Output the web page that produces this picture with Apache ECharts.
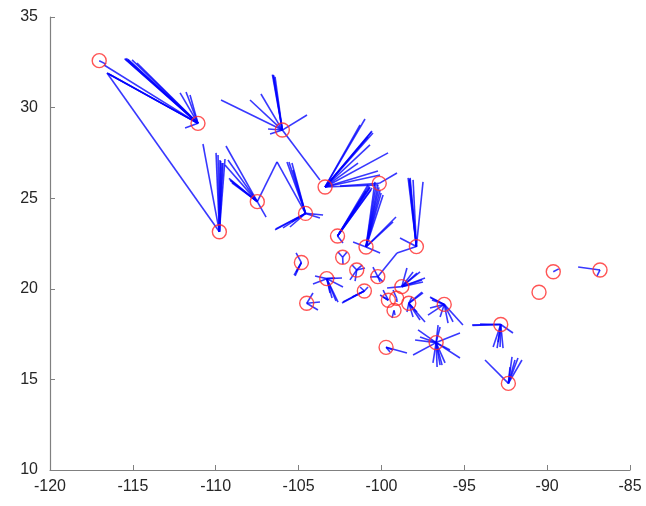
<!DOCTYPE html>
<html>
<head>
<meta charset="utf-8">
<script src="https://cdn.jsdelivr.net/npm/echarts@6/dist/echarts.min.js"></script>
<style>html,body{margin:0;padding:0;background:#fff}#c{width:646px;height:506px}</style>
</head>
<body>
<div id="c"></div>
<script>
// City locations (longitude, latitude)
const cityNames = ['Tijuana','Hermosillo','Los Cabos','Culiacan','Chihuahua','Durango','Torreon','Monterrey',
  'Zacatecas','San Luis Potosi','Tampico','Aguascalientes','Tepic','Leon','Guadalajara','Queretaro',
  'Morelia','Manzanillo','Pachuca','Toluca','Mexico City','Cuernavaca','Puebla','Veracruz','Oaxaca',
  'Acapulco','Villahermosa','Tapachula','Campeche','Merida','Cancun'];
const cityLon = [-117.03,-111.07,-109.78,-107.49,-105.98,-104.58,-103.40,-100.13,
  -102.65,-100.93,-97.89,-102.34,-104.83,-101.49,-103.30,-100.22,
  -101.03,-104.51,-98.77,-99.58,-99.08,-99.24,-98.35,-96.21,-96.70,
  -99.72,-92.80,-92.34,-90.49,-89.63,-86.81];
const cityLat = [32.59,29.13,23.15,24.81,28.76,24.16,25.62,25.82,
  22.91,22.31,22.33,21.74,21.45,21.04,20.56,20.67,
  19.88,19.20,20.12,19.37,19.48,18.81,19.20,19.14,17.03,
  16.77,18.03,14.78,19.81,20.94,21.04];
// Spoke end points for each city, same order as the cities
const spokeEnds = [
  [[-116.62,32.40]],
  [[-115.50,32.70],[-115.40,32.72],[-115.30,32.66],[-115.45,32.68],[-115.05,32.63],[-114.75,32.46],[-116.56,31.91],[-116.45,31.85],[-116.50,31.88],[-116.74,32.35],[-112.15,30.81],[-111.79,30.86],[-111.55,30.70],[-111.85,28.88]],
  [[-116.56,31.91],[-110.77,27.99],[-109.98,27.50],[-109.86,27.39],[-109.74,27.11],[-109.56,26.94],[-109.62,26.94],[-109.44,27.16],[-109.70,27.05]],
  [[-109.38,27.88],[-109.26,27.11],[-109.14,26.01],[-109.10,25.95],[-109.02,25.84],[-109.44,26.83],[-109.20,26.10],[-106.30,27.00],[-106.96,23.96]],
  [[-106.54,31.80],[-106.50,31.78],[-106.58,31.82],[-106.42,31.69],[-109.68,30.42],[-107.93,30.42],[-107.27,30.75],[-104.49,29.59],[-106.84,28.82],[-106.72,28.54],[-103.71,26.01]],
  [[-106.30,27.00],[-105.70,27.00],[-105.58,27.00],[-105.40,26.94],[-105.34,26.56],[-103.52,24.07],[-103.71,23.91],[-106.42,23.25],[-106.38,23.30],[-105.94,23.36],[-105.52,23.41],[-105.40,23.69]],
  [[-100.99,29.37],[-100.57,28.71],[-100.51,28.60],[-100.81,28.38],[-99.60,27.50],[-101.41,26.94],[-100.21,26.50],[-100.08,26.28],[-101.29,29.04],[-100.69,27.94],[-100.21,25.73],[-100.60,28.65]],
  [[-99.06,26.39],[-102.50,25.67]],
  [[-100.81,25.73],[-100.69,25.62],[-100.57,25.56],[-100.93,25.40],[-100.75,25.67],[-100.63,25.45],[-100.70,25.58],[-102.32,22.53]],
  [[-100.39,25.90],[-100.21,25.73],[-100.08,25.45],[-99.90,25.18],[-100.02,25.29],[-100.33,25.67],[-100.15,25.60],[-99.12,23.96],[-99.30,23.69],[-101.71,22.58],[-100.08,21.98]],
  [[-98.39,26.12],[-98.27,26.12],[-98.09,26.01],[-97.49,25.90],[-98.33,26.01],[-98.30,26.08],[-98.88,22.80],[-99.06,21.98]],
  [[-102.62,22.03],[-102.08,22.03],[-102.32,21.37]],
  [[-105.15,21.98],[-105.27,20.76],[-105.15,20.93],[-105.21,20.71]],
  [[-101.77,21.31],[-101.17,21.31],[-101.90,20.49],[-101.59,20.43],[-100.99,21.15]],
  [[-104.01,20.71],[-104.13,20.27],[-102.80,20.60],[-102.38,20.60],[-102.32,20.10],[-103.10,19.77],[-102.98,19.49],[-102.62,19.27],[-102.74,19.33]],
  [[-100.51,21.20],[-100.69,20.65],[-100.08,20.38],[-99.90,20.38],[-99.06,21.98]],
  [[-102.32,19.27],[-102.38,19.22],[-101.77,19.55],[-101.29,20.10],[-100.81,20.10]],
  [[-104.13,19.77],[-103.71,19.27],[-103.83,18.83]],
  [[-98.46,21.15],[-98.09,20.93],[-97.67,20.93],[-97.37,20.60],[-97.49,20.38],[-97.85,20.87],[-99.66,20.04],[-97.55,20.49]],
  [[-99.90,19.93],[-100.08,19.66],[-99.90,19.55]],
  [[-99.30,19.93],[-99.06,19.27]],
  [[-99.36,18.39],[-99.18,18.55]],
  [[-97.55,19.82],[-97.49,19.77],[-97.67,18.28],[-98.09,18.44],[-97.85,18.72],[-97.37,18.17],[-98.46,18.72],[-98.15,19.55]],
  [[-97.07,19.55],[-97.03,19.50],[-96.95,19.38],[-97.19,18.55],[-97.07,18.94],[-95.98,18.11],[-95.68,18.17],[-95.08,18.00],[-96.46,18.44]],
  [[-97.79,17.73],[-97.67,17.34],[-97.97,17.17],[-98.09,16.35],[-95.26,17.56],[-96.46,17.89],[-96.58,18.00],[-95.86,16.62],[-95.26,16.18],[-96.64,15.68],[-96.34,15.79],[-96.16,15.91],[-96.46,15.79],[-96.89,15.91]],
  [[-98.46,16.46],[-99.30,16.62],[-99.48,16.51]],
  [[-94.53,18.00],[-94.50,17.98],[-94.05,18.06],[-92.06,17.56],[-93.26,16.79],[-93.02,16.73],[-92.84,16.79],[-92.66,16.73],[-92.96,17.06]],
  [[-93.75,16.07],[-92.12,16.24],[-91.94,16.07],[-91.76,16.18],[-91.52,16.07],[-92.24,15.68]],
  [],
  [[-89.30,21.10]],
  [[-88.13,21.20],[-86.99,20.71]]
];
const xTicks = {min: -120, max: -85, step: 5};
const yTicks = {min: 10, max: 35, step: 5};

const lineData = [];
spokeEnds.forEach((ends, i) => {
  ends.forEach(e => lineData.push({coords: [[cityLon[i], cityLat[i]], e]}));
});
const pointData = cityLon.map((x, i) => [x, cityLat[i]]);

const chart = echarts.init(document.getElementById('c'), null, {renderer: 'canvas'});
const axisCommon = {
  axisLine: {show: true, lineStyle: {color: '#808080', width: 1.2}},
  axisTick: {show: true, inside: true, length: 5, lineStyle: {color: '#808080'}},
  splitLine: {show: false},
  axisLabel: {color: '#262626', fontSize: 16, fontFamily: 'Liberation Sans, Arial, sans-serif'}
};
chart.setOption({
  animation: false,
  backgroundColor: '#fff',
  grid: {left: 50, right: 16, top: 17, bottom: 36, containLabel: false},
  xAxis: Object.assign({type: 'value', min: xTicks.min, max: xTicks.max, interval: xTicks.step}, axisCommon,
    {axisLabel: Object.assign({}, axisCommon.axisLabel, {margin: 9})}),
  yAxis: Object.assign({type: 'value', min: yTicks.min, max: yTicks.max, interval: yTicks.step}, axisCommon,
    {axisLabel: Object.assign({}, axisCommon.axisLabel, {margin: 12})}),
  series: [
    {type: 'lines', coordinateSystem: 'cartesian2d', data: lineData, silent: true,
     lineStyle: {color: '#0000ff', width: 1.6, opacity: 0.78}},
    {type: 'scatter', data: pointData, symbol: 'circle', symbolSize: 14, silent: true,
     itemStyle: {color: 'rgba(0,0,0,0)', borderColor: '#ff2a2a', borderWidth: 1.4}}
  ]
});
</script>
</body>
</html>
